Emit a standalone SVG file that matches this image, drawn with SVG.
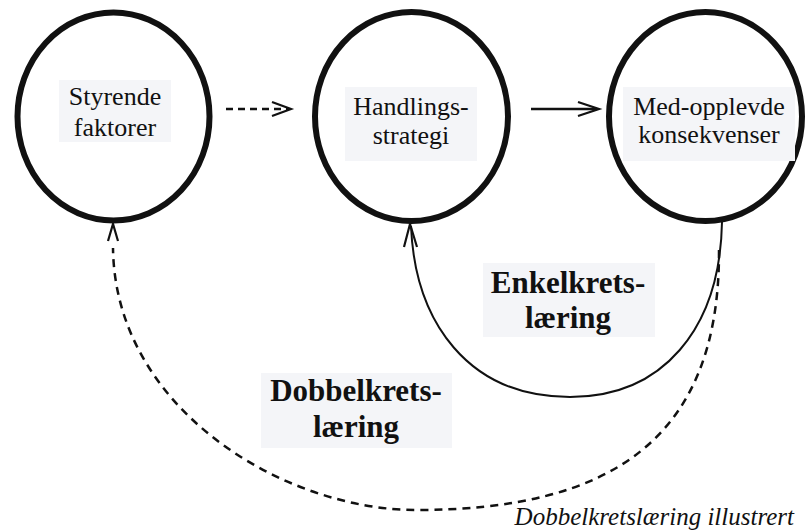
<svg xmlns="http://www.w3.org/2000/svg" width="808" height="532" viewBox="0 0 808 532">
  <defs>
    <style>
      .node { fill: none; stroke: #111; stroke-width: 6; }
      .lbl { fill: #f4f5f8; }
      .t { font-size: 26px; fill: #111; text-anchor: middle; }
      .tb { font-size: 31px; font-weight: bold; fill: #111; text-anchor: middle; }
      .cap { font-size: 25px; font-style: italic; fill: #111; text-anchor: end; }
      .line { fill: none; stroke: #111; stroke-width: 2.5; }
      .dash { fill: none; stroke: #111; stroke-width: 2.5; stroke-dasharray: 7 5; }
      .loop { fill: none; stroke: #111; stroke-width: 2; }
      .dloop { fill: none; stroke: #111; stroke-width: 2.5; stroke-dasharray: 8 6; }
      .head { fill: none; stroke: #111; stroke-width: 2.2; stroke-linejoin: miter; }
    </style>
  </defs>
  <rect width="808" height="532" fill="#ffffff"/>

  <g id="connectors">
    <line class="dash" x1="226" y1="109" x2="289" y2="109"/>
    <polyline class="head" points="272,102 291,109 272,116"/>
    <line class="line" x1="531" y1="109" x2="597" y2="109"/>
    <polyline class="head" points="578,102 599,109 578,116"/>
    <path class="loop" d="M 722 222 C 720 330 662 397 570 397 C 468 397 415 322 411 226"/>
    <polyline class="head" points="404,247 410,224 417,247"/>
    <path class="dloop" d="M 719 250 C 720 440 610 510 416 510 C 285 510 115 410 113 248"/>
    <polyline class="head" points="108,241 113,224 118,241"/>
  </g>

  <g font-family="Liberation Serif, Times New Roman, DejaVu Serif, serif">
  <g id="styrende">
    <ellipse class="node" cx="113.5" cy="116.5" rx="96" ry="104"/>
    <rect class="lbl" x="59" y="80" width="112" height="62"/>
    <text class="t" x="115" y="105">Styrende</text>
    <text class="t" x="115" y="136">faktorer</text>
  </g>

  <g id="handling">
    <ellipse class="node" cx="411.5" cy="116.5" rx="96.5" ry="104.5"/>
    <rect class="lbl" x="345" y="87" width="132" height="74"/>
    <text class="t" x="411" y="115">Handlings-</text>
    <text class="t" x="411" y="144">strategi</text>
  </g>

  <g id="konsekvenser">
    <ellipse class="node" cx="705.5" cy="116.5" rx="96.5" ry="104.5"/>
    <rect class="lbl" x="623" y="87" width="172" height="74"/>
    <text class="t" x="709" y="115">Med-opplevde</text>
    <text class="t" x="709" y="143">konsekvenser</text>
  </g>

  <g id="enkel">
    <rect class="lbl" x="483" y="263" width="172" height="74"/>
    <text class="tb" x="568" y="293">Enkelkrets-</text>
    <text class="tb" x="568" y="328">læring</text>
  </g>

  <g id="dobbel">
    <rect class="lbl" x="261" y="373" width="191" height="75"/>
    <text class="tb" x="356" y="401">Dobbelkrets-</text>
    <text class="tb" x="356" y="437">læring</text>
  </g>

  <text class="cap" x="794" y="525">Dobbelkretslæring illustrert</text>
  </g>
</svg>
